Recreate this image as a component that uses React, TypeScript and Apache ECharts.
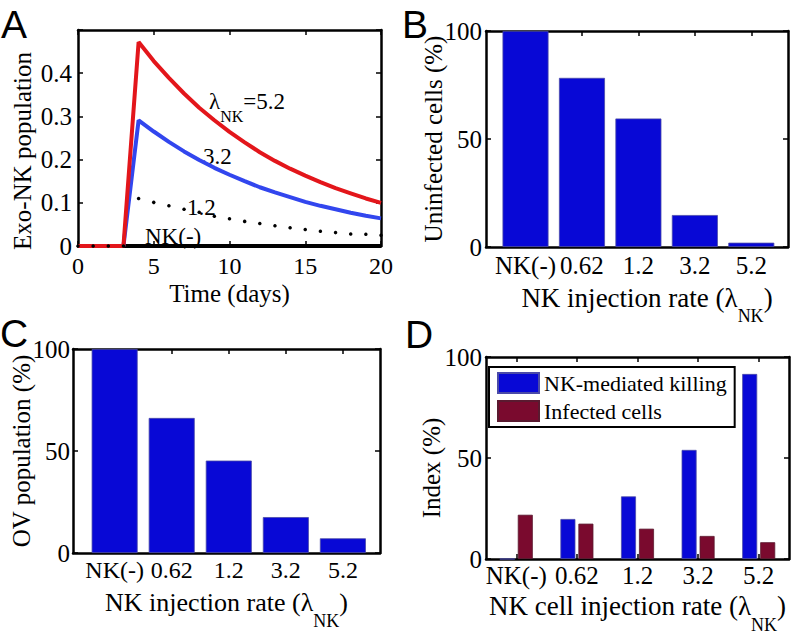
import React, { useEffect, useRef } from 'react';
import * as echarts from 'echarts';

// ---------- data ----------
const days = [0, 1, 2, 3, 4, 5, 6, 7, 8, 9, 10, 11, 12, 13, 14, 15, 16, 17, 18, 19, 20];
const exoNK52 = [0, 0, 0, 0, 0.472, 0.428, 0.389, 0.353, 0.32, 0.291, 0.264, 0.24, 0.217, 0.197, 0.179, 0.163, 0.148, 0.134, 0.122, 0.11, 0.1];
const exoNK32 = [0, 0, 0, 0, 0.291, 0.265, 0.241, 0.219, 0.199, 0.181, 0.165, 0.15, 0.136, 0.124, 0.113, 0.102, 0.093, 0.085, 0.077, 0.07, 0.064];
const exoNK12 = [0, 0, 0, 0, 0.11, 0.101, 0.093, 0.085, 0.078, 0.069, 0.063, 0.057, 0.052, 0.047, 0.042, 0.038, 0.034, 0.031, 0.028, 0.027, 0.025];
const exoNKneg = [0, 0, 0, 0, 0, 0, 0, 0, 0, 0, 0, 0, 0, 0, 0, 0, 0, 0, 0, 0, 0];

const rateLabels = ['NK(-)', '0.62', '1.2', '3.2', '5.2'];
const ratePos = [1, 2, 3, 4, 5];
const uninfected = [100, 78.3, 59.5, 14.8, 2.0];
const ovPopulation = [100, 66.2, 45.3, 17.6, 7.2];
const nkKilling = [0, 19.8, 31.0, 54.0, 91.6];
const infectedCells = [21.9, 17.5, 15.0, 11.4, 8.3];

const xTicksA = [0, 5, 10, 15, 20];

// ---------- styles ----------
const SERIF = '"Liberation Serif", "Times New Roman", serif';
const SANS = '"Liberation Sans", Arial, sans-serif';
const BAR_BLUE = '#0808d6';
const MAROON = '#7a0a2e';
const LINE_RED = '#e3161b';
const LINE_BLUE = '#3246ee';

const axisLine = { show: true, onZero: false, lineStyle: { color: '#000', width: 2.5 } };
const tick = { show: true, inside: true, length: 5, lineStyle: { color: '#000', width: 1.5 } };
const noSplit = { show: false };
const labelStyle = { color: '#000', fontFamily: SERIF, fontSize: 25 };
const tickLabel = { ...labelStyle, lineHeight: 20 };

const nameRich = (size: number, sub: number) => ({
  n: { fontFamily: SERIF, fontSize: size, color: '#000', lineHeight: 22, verticalAlign: 'top' },
  s: { fontFamily: SERIF, fontSize: 18, color: '#000', lineHeight: 17, padding: [sub, 0, 0, 0], verticalAlign: 'top' },
});
const annRich = {
  m: { fontFamily: SERIF, fontSize: 23, fill: '#000', color: '#000', lineHeight: 24, verticalAlign: 'top' },
  s: { fontFamily: SERIF, fontSize: 16, fill: '#000', color: '#000', lineHeight: 16, padding: [18, 0, 0, 0], verticalAlign: 'top' },
};

const grids = [
  { left: 78, top: 30, width: 303, height: 216 },
  { left: 486, top: 31, width: 302, height: 216 },
  { left: 73, top: 349, width: 307, height: 204 },
  { left: 486, top: 357, width: 303, height: 202 },
];

const catFmt = (v: number) => rateLabels[Math.round(v) - 1] ?? '';

function valueCatX(
  gi: number, min: number, max: number, name: string, gap: number, margin: number,
  shift: number, labelSize: number, nameSize: number,
) {
  return [
    {
      gridIndex: gi, type: 'value', position: 'bottom', min, max,
      axisLine, axisTick: { show: false }, splitLine: noSplit,
      axisLabel: { ...tickLabel, fontSize: labelSize, margin, customValues: ratePos, formatter: catFmt },
      name, nameLocation: 'middle', nameGap: gap, nameMoveOverlap: false,
      nameTextStyle: { fontFamily: SERIF, rich: nameRich(nameSize, 23), padding: [0, 0, 0, shift] },
    },
    {
      gridIndex: gi, type: 'value', position: 'top', min, max,
      axisLine, axisTick: { ...tick, customValues: ratePos }, splitLine: noSplit,
      axisLabel: { show: false, customValues: ratePos },
    },
  ];
}

function pctY(gi: number, name: string, gap: number, margin: number, pad: number) {
  return [
    {
      gridIndex: gi, type: 'value', position: 'left', min: 0, max: 100, interval: 50,
      axisLine, axisTick: tick, splitLine: noSplit,
      axisLabel: { ...labelStyle, margin },
      name, nameLocation: 'middle', nameGap: gap, nameMoveOverlap: false,
      nameTextStyle: { ...labelStyle, padding: [0, pad, 0, 0] },
    },
    {
      gridIndex: gi, type: 'value', position: 'right', min: 0, max: 100, interval: 50,
      axisLine, axisTick: tick, splitLine: noSplit, axisLabel: { show: false },
    },
  ];
}

const xAxis = [
  {
    gridIndex: 0, type: 'value', position: 'bottom', min: 0, max: 20, interval: 5,
    axisLine, axisTick: tick, splitLine: noSplit,
    axisLabel: { ...tickLabel, fontSize: 24, margin: 10, customValues: xTicksA },
    name: 'Time (days)', nameLocation: 'middle', nameGap: 38, nameMoveOverlap: false,
    nameTextStyle: { ...labelStyle, lineHeight: 18 },
  },
  {
    gridIndex: 0, type: 'value', position: 'top', min: 0, max: 20, interval: 5,
    axisLine, axisTick: tick, splitLine: noSplit, axisLabel: { show: false },
  },
  ...valueCatX(1, 0.3, 5.65, '{n|NK injection rate (λ}{s|NK}{n|)}', 37, 8, 20, 25, 27),
  ...valueCatX(2, 0.27, 5.65, '{n|NK injection rate (λ}{s|NK}{n|)}', 36, 7, 0, 24, 26),
  {
    gridIndex: 3, type: 'category', position: 'bottom', data: rateLabels, boundaryGap: true,
    axisLine, axisTick: { ...tick, alignWithLabel: true, interval: 0 }, splitLine: noSplit,
    axisLabel: { ...tickLabel, margin: 6, interval: 0 },
    name: '{n|NK cell injection rate (λ}{s|NK}{n|)}', nameLocation: 'middle', nameGap: 33, nameMoveOverlap: false,
    nameTextStyle: { fontFamily: SERIF, rich: nameRich(27, 24) },
  },
  {
    gridIndex: 3, type: 'category', position: 'top', data: rateLabels, boundaryGap: true,
    axisLine, axisTick: { ...tick, alignWithLabel: true, interval: 0 }, splitLine: noSplit, axisLabel: { show: false },
  },
];

const yAxis = [
  {
    gridIndex: 0, type: 'value', position: 'left', min: 0, max: 0.5, interval: 0.1,
    axisLine, axisTick: tick, splitLine: noSplit,
    axisLabel: { ...labelStyle, margin: 6, formatter: (v: number) => (v === 0 ? '0' : v > 0.45 ? '' : v.toFixed(1)) },
    name: 'Exo-NK population', nameLocation: 'middle', nameGap: 43, nameMoveOverlap: false,
    nameTextStyle: { ...labelStyle, padding: [0, 26, 0, 0] },
  },
  {
    gridIndex: 0, type: 'value', position: 'right', min: 0, max: 0.5, interval: 0.1,
    axisLine, axisTick: tick, splitLine: noSplit, axisLabel: { show: false },
  },
  ...pctY(1, 'Uninfected cells (%)', 40, 4, 0),
  ...pctY(2, 'OV population (%)', 39, 3, 0),
  ...pctY(3, 'Index (%)', 42, 4, 20),
];

const lineCommon = { type: 'line', xAxisIndex: 0, yAxisIndex: 0, showSymbol: false, clip: false, silent: true };

const series = [
  {
    ...lineCommon, name: '1.2', data: days.map((d, i) => [d, exoNK12[i]]),
    showSymbol: true, showAllSymbol: true, symbol: 'circle', symbolSize: 3.5,
    itemStyle: { color: '#000' }, lineStyle: { width: 0, opacity: 0 },
  },
  { ...lineCommon, name: 'NK(-)', data: days.map((d, i) => [d, exoNKneg[i]]), lineStyle: { color: '#000', width: 4 } },
  { ...lineCommon, name: '3.2', data: days.map((d, i) => [d, exoNK32[i]]), lineStyle: { color: LINE_BLUE, width: 4 } },
  { ...lineCommon, name: '5.2', data: days.map((d, i) => [d, exoNK52[i]]), lineStyle: { color: LINE_RED, width: 4 } },
  {
    type: 'bar', name: 'Uninfected', xAxisIndex: 2, yAxisIndex: 2, barWidth: 46,
    data: ratePos.map((p, i) => [p, uninfected[i]]),
    itemStyle: { color: BAR_BLUE, borderColor: '#4a4aa8', borderWidth: 0.8 },
  },
  {
    type: 'bar', name: 'OV', xAxisIndex: 4, yAxisIndex: 4, barWidth: 46,
    data: ratePos.map((p, i) => [p, ovPopulation[i]]),
    itemStyle: { color: BAR_BLUE, borderColor: '#4a4aa8', borderWidth: 0.8 },
  },
  {
    type: 'bar', name: 'NK-mediated killing', xAxisIndex: 6, yAxisIndex: 6, barWidth: 15, barGap: '20%',
    data: nkKilling, itemStyle: { color: BAR_BLUE, borderColor: '#4a4aa8', borderWidth: 0.8 },
  },
  {
    type: 'bar', name: 'Infected cells', xAxisIndex: 6, yAxisIndex: 6, barWidth: 15, barGap: '20%',
    data: infectedCells, itemStyle: { color: MAROON, borderColor: '#5a1a30', borderWidth: 0.8 },
  },
];

const letter = (t: string, x: number, y: number) => ({
  type: 'text', silent: true,
  style: { text: t, x, y, font: `39px ${SANS}`, fill: '#000', verticalAlign: 'top' },
});
const ann = (t: string, x: number, y: number) => ({
  type: 'text', silent: true,
  style: { text: t, x, y, rich: annRich, fill: '#000', verticalAlign: 'top', font: `23px ${SERIF}` },
});

const graphic = [
  letter('A', 1, 5),
  letter('B', 402, 5),
  letter('C', 0, 314),
  letter('D', 405, 315),
  ann('{m|λ}{s|NK}{m|=5.2}', 209, 90),
  ann('{m|3.2}', 203, 145),
  ann('{m|1.2}', 187, 196),
  ann('{m|NK(-)}', 145, 225),
];

const option = {
  animation: false,
  backgroundColor: '#fff',
  textStyle: { fontFamily: SERIF },
  grid: grids.map((g) => ({ ...g, containLabel: false })),
  xAxis,
  yAxis,
  series,
  legend: {
    left: 489, top: 367, orient: 'vertical', icon: 'rect',
    itemWidth: 41, itemHeight: 20, itemGap: 6, padding: [5, 8, 5, 8],
    borderColor: '#000', borderWidth: 2, backgroundColor: '#fff',
    textStyle: { fontFamily: SERIF, fontSize: 22, color: '#000' },
    data: ['NK-mediated killing', 'Infected cells'], selectedMode: false,
  },
  graphic,
};

export default function App() {
  const ref = useRef<HTMLDivElement>(null);
  useEffect(() => {
    const chart = echarts.init(ref.current!, null, { renderer: 'svg' });
    chart.setOption(option as any);
    return () => chart.dispose();
  }, []);
  return (
    <div
      ref={ref}
      style={{ position: 'fixed', left: 0, top: 0, width: 796, height: 640, background: '#fff' }}
    />
  );
}
